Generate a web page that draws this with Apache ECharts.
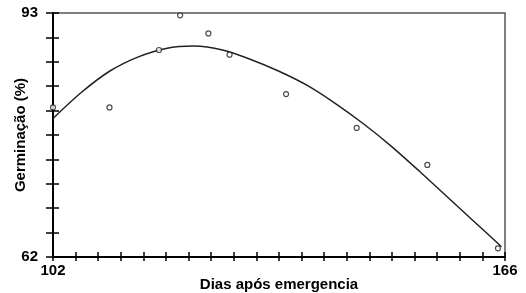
<!DOCTYPE html>
<html>
<head>
<meta charset="utf-8">
<script src="https://cdn.jsdelivr.net/npm/echarts@6/dist/echarts.min.js"></script>
<style>
  html, body { margin: 0; padding: 0; background: #fff; }
  #chart { width: 526px; height: 293px; }
</style>
</head>
<body>
<div id="chart"></div>
<script>
// observed points (dias, germinacao %)
const obsDias = [102, 110, 117, 120, 124, 127, 135, 145, 155, 165]
const obsGerm = [81.0, 81.0, 88.3, 92.7, 90.4, 87.7, 82.7, 78.4, 73.7, 63.1]

// fitted curve
const fitDias = [102, 106, 110, 114, 118, 122, 126, 130, 134, 138, 142, 146, 150, 154, 158, 162, 165.5]
const fitGerm = [79.6, 82.9, 85.6, 87.4, 88.5, 88.8, 88.3, 87.1, 85.6, 83.8, 81.5, 78.9, 76.0, 72.8, 69.5, 66.2, 63.3]

const xLabels = [102, 166]
const yLabels = [62, 93]

const xMin = 102
const xMax = 166
const xStep = 3.2 // 20 tick intervals
const xTicks = []
for (let i = 0; i <= 20; i++) {
  xTicks.push(+(xMin + i * xStep).toFixed(2))
}

const fontFamily = 'Liberation Sans, Arial, sans-serif'
const axisColor = '#000'

const chart = echarts.init(document.getElementById('chart'))

const baseX = {
  type: 'value',
  min: xMin,
  max: xMax,
  position: 'bottom',
  splitLine: { show: false }
}
const baseY = {
  type: 'value',
  min: 62,
  max: 93,
  interval: 3.1,
  position: 'left',
  splitLine: { show: false }
}

chart.setOption({
  animation: false,
  grid: {
    left: 53,
    right: 21,
    top: 13,
    bottom: 36,
    outerBoundsMode: 'none',
    containLabel: false,
    show: true,
    borderColor: '#555',
    borderWidth: 1.5
  },
  xAxis: [
    Object.assign({}, baseX, {
      name: 'Dias após emergencia',
      nameLocation: 'middle',
      nameGap: 20,
      nameMoveOverlap: false,
      nameTextStyle: { fontFamily, fontSize: 15, fontWeight: 'bold', color: axisColor },
      axisLine: { lineStyle: { color: axisColor, width: 2 } },
      axisTick: { length: 4, customValues: xTicks, lineStyle: { color: axisColor, width: 1.5 } },
      axisLabel: {
        customValues: xLabels,
        margin: 6,
        fontFamily,
        fontSize: 15,
        fontWeight: 'bold',
        color: axisColor
      }
    }),
    Object.assign({}, baseX, {
      axisLine: { show: false },
      axisTick: { inside: true, length: 5, customValues: xTicks, lineStyle: { color: axisColor, width: 1.5 } },
      axisLabel: { show: false }
    })
  ],
  yAxis: [
    Object.assign({}, baseY, {
      name: 'Germinação (%)',
      nameLocation: 'middle',
      nameGap: 25,
      nameRotate: 90,
      nameMoveOverlap: false,
      nameTextStyle: { fontFamily, fontSize: 15, fontWeight: 'bold', color: axisColor },
      axisLine: { show: true, lineStyle: { color: axisColor, width: 2 } },
      axisTick: { show: true, length: 7, lineStyle: { color: axisColor, width: 1.5 } },
      axisLabel: {
        customValues: yLabels,
        margin: 15,
        fontFamily,
        fontSize: 15,
        fontWeight: 'bold',
        color: axisColor
      }
    }),
    Object.assign({}, baseY, {
      axisLine: { show: false },
      axisTick: { show: true, inside: true, length: 6, lineStyle: { color: axisColor, width: 1.5 } },
      axisLabel: { show: false }
    })
  ],
  series: [
    {
      type: 'line',
      smooth: 0.3,
      symbol: 'none',
      lineStyle: { color: '#222', width: 1.5 },
      data: fitDias.map((d, i) => [d, fitGerm[i]]),
      z: 3
    },
    {
      type: 'scatter',
      symbol: 'circle',
      symbolSize: 5,
      itemStyle: { color: '#fff', borderColor: '#222', borderWidth: 1.2 },
      data: obsDias.map((d, i) => [d, obsGerm[i]]),
      z: 4
    }
  ]
})
</script>
</body>
</html>
